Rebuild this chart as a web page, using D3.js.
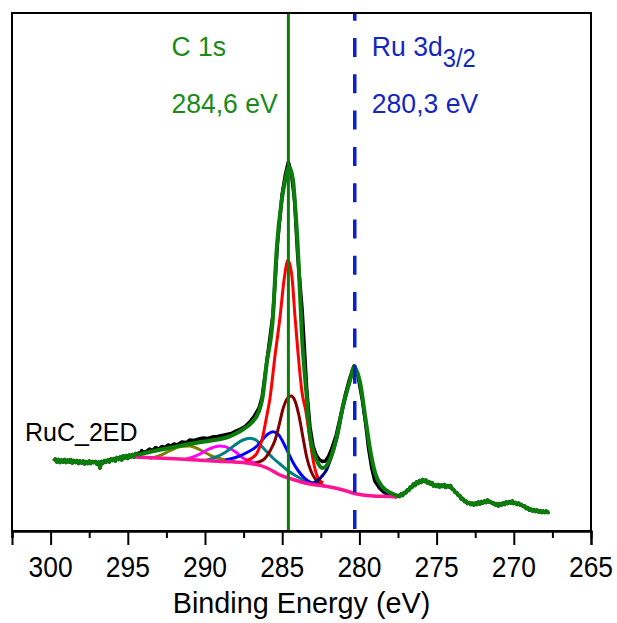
<!DOCTYPE html>
<html>
<head>
<meta charset="utf-8">
<script src="https://cdn.jsdelivr.net/npm/d3@7"></script>
<style>
  html, body { margin: 0; padding: 0; background: #fff; }
  svg { display: block; }
  text { font-family: Arial, "Liberation Sans", sans-serif; }
</style>
</head>
<body>
<div id="chart"></div>
<script>
// ----------------------------------------------------------
// Data: binding energy (eV) vs intensity (a.u.)
// ----------------------------------------------------------
const majorTicks = [300, 295, 290, 285, 280, 275, 270, 265];
const minorTicks = [302.5, 297.5, 292.5, 287.5, 282.5, 277.5, 272.5, 267.5];

// measured spectrum
const rawData = [
  [299.8, 7.0], [299.7, 7.2], [299.6, 6.9], [299.5, 7.15], [299.4, 6.85], [299.3, 7.1],
  [299.2, 6.9], [299.1, 7.15], [299.0, 6.85], [298.9, 7.1], [298.8, 6.9], [298.7, 7.15],
  [298.6, 6.8], [298.5, 7.05], [298.4, 6.85], [298.3, 7.05], [298.2, 6.75], [298.1, 7.0],
  [298.0, 6.8], [297.9, 7.0], [297.8, 6.7], [297.7, 6.95], [297.6, 6.75], [297.5, 7.0],
  [297.4, 6.75], [297.3, 6.95], [297.2, 6.85], [297.1, 6.95], [297.0, 6.7], [296.9, 6.9],
  [296.8, 6.3], [296.7, 6.95], [296.6, 6.8], [296.5, 7.05], [296.4, 6.9], [296.3, 7.1],
  [296.2, 6.9], [296.1, 7.2], [296.0, 7.05], [295.9, 7.25], [295.8, 7.0], [295.7, 7.35],
  [295.6, 7.15], [295.5, 7.4], [295.4, 7.1], [295.3, 7.5], [295.2, 7.3], [295.1, 7.55],
  [295.0, 7.25], [294.9, 7.6], [294.8, 7.4], [294.7, 7.65], [294.6, 7.4], [294.5, 7.75],
  [294.4, 7.6], [294.3, 7.8], [294.2, 7.7], [294.1, 8.05], [294.0, 7.85], [293.8, 7.95],
  [293.6, 8.2], [293.4, 8.05], [293.2, 8.35], [293.0, 8.2], [292.8, 8.45], [292.6, 8.35],
  [292.4, 8.6], [292.2, 8.5], [292.0, 8.7], [291.8, 8.6], [291.5, 8.9], [291.2, 8.85],
  [291.0, 9.1], [290.7, 9.05], [290.4, 9.2], [290.1, 9.3], [289.8, 9.25], [289.5, 9.4],
  [289.2, 9.45], [288.9, 9.55], [288.6, 9.65], [288.3, 9.75], [288.0, 10.0], [287.7, 10.2],
  [287.4, 10.45], [287.1, 10.9], [286.8, 11.5], [286.5, 12.3], [286.3, 13.4], [286.0, 16.9],
  [285.6, 21.6], [285.3, 28.9], [285.0, 33.7], [284.8, 35.6], [284.6, 36.9], [284.4, 35.7],
  [284.2, 33.1], [284.0, 27.6], [283.7, 21.9], [283.4, 13.9], [283.2, 10.4], [283.0, 8.5],
  [282.8, 7.6], [282.6, 7.15], [282.4, 6.95], [282.2, 7.0], [282.0, 7.45], [281.8, 8.2],
  [281.5, 9.6], [281.2, 11.6], [280.9, 13.7], [280.6, 15.4], [280.35, 16.5], [280.1, 15.6],
  [279.8, 13.0], [279.6, 10.8], [279.4, 8.2], [279.2, 6.3], [279.0, 5.0], [278.7, 4.3],
  [278.4, 3.85], [278.0, 3.55], [277.8, 3.5], [277.6, 3.45], [277.5, 3.55], [277.4, 3.45],
  [277.3, 3.7], [277.2, 3.55], [277.1, 3.85], [277.0, 3.8], [276.9, 4.1], [276.8, 4.05],
  [276.7, 4.4], [276.6, 4.35], [276.5, 4.7], [276.4, 4.55], [276.3, 4.9], [276.2, 4.75],
  [276.1, 5.05], [276.0, 4.85], [275.9, 5.15], [275.8, 4.95], [275.7, 5.1], [275.6, 4.8],
  [275.5, 4.95], [275.4, 4.7], [275.3, 4.85], [275.2, 4.5], [275.1, 4.65], [275.0, 4.45],
  [274.9, 4.65], [274.8, 4.4], [274.7, 4.6], [274.6, 4.45], [274.5, 4.65], [274.4, 4.35],
  [274.3, 4.55], [274.2, 4.4], [274.1, 4.55], [274.0, 4.2], [273.9, 4.15], [273.8, 3.85],
  [273.7, 3.85], [273.6, 3.55], [273.5, 3.55], [273.4, 3.2], [273.3, 3.25], [273.2, 2.95],
  [273.1, 3.0], [273.0, 2.75], [272.9, 2.85], [272.8, 2.65], [272.7, 2.8], [272.6, 2.6],
  [272.5, 2.8], [272.4, 2.65], [272.3, 2.9], [272.2, 2.7], [272.1, 2.95], [272.0, 2.8],
  [271.9, 3.0], [271.8, 2.85], [271.7, 3.1], [271.6, 2.9], [271.5, 2.95], [271.4, 2.75],
  [271.3, 2.8], [271.2, 2.6], [271.1, 2.75], [271.0, 2.5], [270.9, 2.75], [270.8, 2.6],
  [270.7, 2.8], [270.6, 2.65], [270.5, 2.9], [270.4, 2.75], [270.3, 2.95], [270.2, 2.8],
  [270.1, 3.0], [270.0, 2.75], [269.9, 2.85], [269.8, 2.65], [269.7, 2.8], [269.6, 2.6],
  [269.5, 2.65], [269.4, 2.45], [269.3, 2.5], [269.2, 2.25], [269.1, 2.35], [269.0, 2.1],
  [268.9, 2.2], [268.8, 2.0], [268.7, 2.15], [268.6, 1.95], [268.5, 2.1], [268.4, 1.9],
  [268.3, 2.05], [268.2, 1.85], [268.1, 2.0], [268.0, 1.85], [267.9, 2.0], [267.8, 1.85],
  [267.7, 1.95]
];

// fit envelope over the fitted window
const envelope = [
  [294.4, 7.6], [294.0, 7.75], [293.0, 8.1], [292.0, 8.4], [291.0, 8.7], [290.0, 8.95],
  [289.0, 9.2], [288.5, 9.4], [288.0, 9.75], [287.5, 10.2], [287.0, 10.8], [286.5, 12.0],
  [286.3, 13.1], [286.0, 16.8], [285.6, 21.4], [285.36, 28.1], [285.03, 33.1], [284.8, 35.1],
  [284.56, 36.4], [284.3, 35.1], [284.19, 33.1], [283.98, 28.1], [283.72, 19.5], [283.41, 13.4],
  [283.22, 9.8], [282.77, 7.1], [282.38, 6.3], [281.92, 7.1], [281.47, 9.4], [281.08, 12.4],
  [280.6, 15.1], [280.34, 16.4], [279.95, 14.8], [279.62, 11.4], [279.3, 8.1], [278.98, 5.8],
  [278.5, 4.4], [277.97, 3.8], [277.5, 3.5]
];

// Shirley-type background
const background = [
  [294.53, 7.4], [291.62, 7.2], [289.48, 7.0], [287.28, 6.8], [285.98, 6.3], [285.14, 5.6],
  [284.5, 5.25], [283.85, 4.95], [283.2, 4.7], [281.9, 4.4], [281.06, 4.1], [280.16, 3.7],
  [279.12, 3.5], [278.02, 3.45], [277.57, 3.4]
];

// fitted components (each sitting on the background)
const compOlive = [
  [293.6, 7.25], [293.0, 7.5], [292.3, 8.0], [291.6, 8.45], [291.0, 8.5], [290.3, 8.1],
  [289.5, 7.45], [288.8, 7.15], [288.0, 6.9]
];
const compMagenta = [
  [291.3, 7.15], [290.97, 7.3], [290.32, 7.7], [289.81, 8.15], [289.03, 8.5], [288.38, 8.25],
  [287.93, 7.8], [287.54, 7.3], [287.09, 6.95], [286.57, 6.75]
];
const compTeal = [
  [290.0, 7.05], [289.35, 7.35], [288.7, 7.85], [288.06, 8.6], [287.54, 9.1], [287.09, 9.27],
  [286.7, 9.1], [286.31, 8.45], [285.92, 7.8], [285.6, 7.3], [285.14, 6.7], [284.69, 6.1],
  [284.15, 5.55], [283.63, 5.1], [283.2, 4.7]
];
const compBlue = [
  [288.7, 7.1], [287.93, 7.4], [287.28, 7.85], [286.63, 8.5], [286.24, 9.2], [285.92, 9.7],
  [285.6, 9.93], [285.27, 9.7], [284.95, 8.9], [284.6, 7.8], [284.28, 6.8], [283.95, 6.0],
  [283.63, 5.4], [283.2, 4.9], [282.75, 4.65], [282.24, 4.5]
];
const compRed = [
  [287.41, 7.0], [286.96, 7.3], [286.63, 7.8], [286.31, 9.1], [286.05, 11.1], [285.79, 13.3],
  [285.46, 17.6], [285.14, 21.4], [284.88, 25.1], [284.62, 27.1], [284.36, 25.3], [284.17, 21.4],
  [283.98, 17.9], [283.72, 13.9], [283.46, 11.9], [283.2, 9.1], [283.0, 7.1], [282.68, 5.3],
  [282.35, 4.8]
];
const compDarkRed = [
  [286.76, 6.8], [286.24, 7.1], [285.79, 8.0], [285.46, 9.1], [285.2, 10.6], [284.95, 12.2],
  [284.69, 13.2], [284.43, 13.5], [284.17, 13.0], [283.91, 11.5], [283.65, 9.3], [283.4, 7.3],
  [283.14, 6.0], [282.81, 5.1], [282.42, 4.6]
];
const compNavy = [
  [283.85, 4.95], [283.2, 4.75], [282.75, 5.0], [282.36, 5.6], [282.1, 6.2], [281.9, 7.0],
  [281.45, 9.3], [281.06, 12.3], [280.61, 15.0], [280.35, 16.3], [279.96, 14.7], [279.64, 11.3],
  [279.31, 8.0], [278.99, 5.7], [278.54, 4.3], [278.02, 3.65], [277.57, 3.4]
];

const components = [
  { data: compOlive,   color: "#808000" },
  { data: compMagenta, color: "#ff00ff" },
  { data: compTeal,    color: "#008080" },
  { data: compBlue,    color: "#0000ff" },
  { data: compDarkRed, color: "#800000" },
  { data: compRed,     color: "#ff0000" },
  { data: compNavy,    color: "#000080" }
];

// fit window limits (outside it the green trace follows the data)
const fitWindow = [294.4, 277.5];

const c1sPosition = 284.6;
const ru3dPosition = 280.3;

// ----------------------------------------------------------
// Layout
// ----------------------------------------------------------
const width = 617, height = 623;
const margin = { top: 13, right: 26, bottom: 92, left: 12 };
const innerWidth = width - margin.left - margin.right;
const innerHeight = height - margin.top - margin.bottom;

const svg = d3.select("#chart").append("svg")
  .attr("width", width)
  .attr("height", height);

const g = svg.append("g")
  .attr("transform", `translate(${margin.left},${margin.top})`);

const x = d3.scaleLinear().domain([302.5, 265]).range([0, innerWidth]);
const y = d3.scaleLinear().domain([0, 51.8]).range([innerHeight, 0]);

const smooth = d3.line().x(d => x(d[0])).y(d => y(d[1])).curve(d3.curveMonotoneX);
const jagged = d3.line().x(d => x(d[0])).y(d => y(d[1]));

// ----------------------------------------------------------
// Curves
// ----------------------------------------------------------
g.append("path")
  .datum(rawData)
  .attr("fill", "none")
  .attr("stroke", "#000")
  .attr("stroke-width", 3.5)
  .attr("stroke-linejoin", "round")
  .attr("d", jagged);

components.forEach(c => {
  g.append("path")
    .datum(c.data)
    .attr("fill", "none")
    .attr("stroke", c.color)
    .attr("stroke-width", 3)
    .attr("d", smooth);
});

g.append("path")
  .datum(background)
  .attr("fill", "none")
  .attr("stroke", "#ff1493")
  .attr("stroke-width", 3.5)
  .attr("d", smooth);

// green trace over the data outside the fit window
const leftTail = rawData.filter(d => d[0] >= fitWindow[0]);
const rightTail = rawData.filter(d => d[0] <= fitWindow[1]);
[leftTail, rightTail].forEach(part => {
  g.append("path")
    .datum(part)
    .attr("fill", "none")
    .attr("stroke", "#0a7d0a")
    .attr("stroke-width", 3.5)
    .attr("stroke-linejoin", "round")
    .attr("d", jagged);
});

g.append("path")
  .datum(envelope)
  .attr("fill", "none")
  .attr("stroke", "#0a7d0a")
  .attr("stroke-width", 4)
  .attr("d", smooth);

// ----------------------------------------------------------
// Reference lines
// ----------------------------------------------------------
g.append("line")
  .attr("x1", x(c1sPosition)).attr("x2", x(c1sPosition))
  .attr("y1", 0).attr("y2", innerHeight)
  .attr("stroke", "#0a7d0a")
  .attr("stroke-width", 3);

g.append("line")
  .attr("x1", x(ru3dPosition)).attr("x2", x(ru3dPosition))
  .attr("y1", 0).attr("y2", innerHeight)
  .attr("stroke", "#0a20c8")
  .attr("stroke-width", 3.5)
  .attr("stroke-dasharray", "19,17.3")
  .attr("stroke-dashoffset", 11.3);

// ----------------------------------------------------------
// Frame + axis
// ----------------------------------------------------------
g.append("rect")
  .attr("width", innerWidth)
  .attr("height", innerHeight)
  .attr("fill", "none")
  .attr("stroke", "#000")
  .attr("stroke-width", 2);

const minorAxis = g.append("g")
  .attr("transform", `translate(0,${innerHeight})`)
  .call(d3.axisBottom(x).tickValues(minorTicks).tickSize(7).tickFormat(""));
minorAxis.selectAll(".tick text").remove();

const majorAxis = g.append("g")
  .attr("transform", `translate(0,${innerHeight})`)
  .call(d3.axisBottom(x).tickValues(majorTicks).tickSize(14).tickFormat(""));
majorAxis.selectAll(".tick text").remove();

[minorAxis, majorAxis].forEach(ax => {
  ax.select(".domain").attr("stroke", "#000").attr("stroke-width", 2);
  ax.selectAll(".tick line").attr("stroke", "#000").attr("stroke-width", 2);
});

// tick labels, placed from the same scale
g.append("g")
  .selectAll("text")
  .data(majorTicks)
  .join("text")
  .attr("transform", d => `translate(${x(d)},${innerHeight + 46}) scale(0.88,1)`)
  .attr("text-anchor", "middle")
  .attr("font-size", 30)
  .attr("fill", "#000")
  .text(d => d3.format("d")(d));

g.append("text")
  .attr("transform", `translate(${innerWidth / 2},${innerHeight + 82}) scale(0.96,1)`)
  .attr("text-anchor", "middle")
  .attr("font-size", 30)
  .attr("fill", "#000")
  .text("Binding Energy (eV)");

// ----------------------------------------------------------
// Annotations
// ----------------------------------------------------------
const labelAt = (px, py, str, color, size) =>
  svg.append("text")
    .attr("transform", `translate(${px},${py}) scale(0.95,1)`)
    .attr("font-size", size)
    .attr("fill", color)
    .text(str);

const cx = margin.left + x(c1sPosition) - 117;
const rx = margin.left + x(ru3dPosition) + 17;

labelAt(cx, 56, "C 1s", "#1a8a1a", 28);
labelAt(cx, 113, "284,6 eV", "#1a8a1a", 28);

const ru = labelAt(rx, 56, "Ru 3d", "#1428c0", 28);
ru.append("tspan").attr("dy", 11).attr("font-size", 25).text("3/2");
labelAt(rx, 113, "280,3 eV", "#1428c0", 28);

svg.append("text")
  .attr("x", 25)
  .attr("y", 441)
  .attr("font-size", 25)
  .attr("fill", "#000")
  .text("RuC_2ED");
</script>
</body>
</html>
